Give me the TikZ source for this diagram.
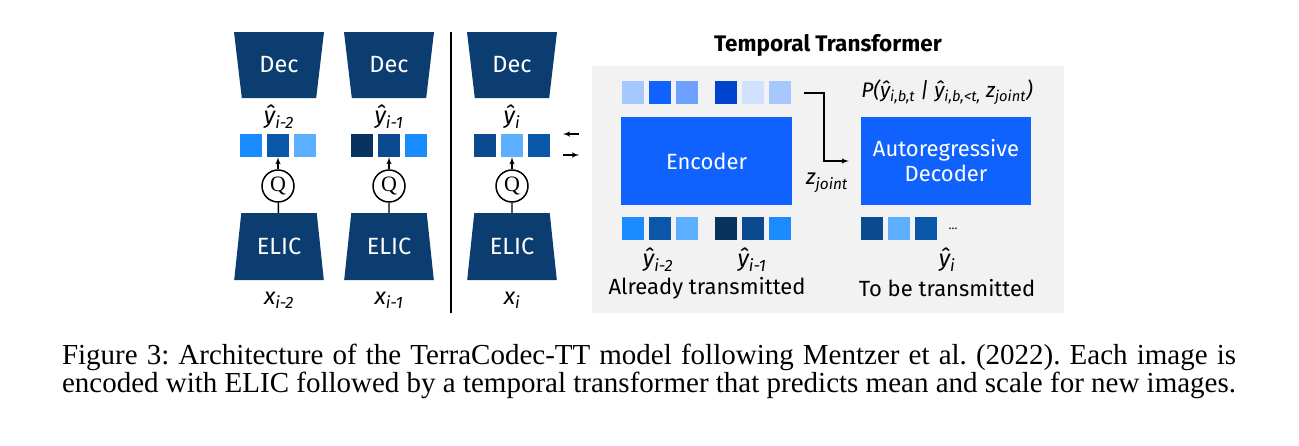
\documentclass[tikz,border=0pt]{standalone}
\usepackage{fontspec}
\setmainfont{Liberation Serif}
\setsansfont{Fira Sans}
\usepackage{xcolor}
\usetikzlibrary{shapes.geometric, arrows, positioning, calc}

\definecolor{navy}{HTML}{0B3D70}
\definecolor{ibmblue}{HTML}{0F62FE}
\definecolor{ttgray}{HTML}{F2F2F2}
\definecolor{cA}{HTML}{1A8CFF}
\definecolor{cB}{HTML}{0A56A8}
\definecolor{cC}{HTML}{5CAEFF}
\definecolor{cD}{HTML}{08335F}
\definecolor{cE}{HTML}{0B4A8E}
\definecolor{tA}{HTML}{A6C8FF}
\definecolor{tB}{HTML}{0F62FE}
\definecolor{tC}{HTML}{6EA0FF}
\definecolor{tD}{HTML}{0043CE}
\definecolor{tE}{HTML}{D0E2FF}

\begin{document}
\begin{tikzpicture}[
    x=1pt, y=-1pt,
    font=\sffamily\fontsize{22}{26}\selectfont,
    node distance=4.5pt,
    coder/.style={trapezium, trapezium stretches=true, trapezium angle=76, fill=navy, text=white, minimum width=90pt, minimum height=66pt, inner sep=0pt, font=\sffamily\fontsize{23.5}{26}\selectfont},
    dec/.style={coder, shape border rotate=180},
    sq/.style={rectangle, minimum width=22pt, minimum height=23pt, inner sep=0pt},
    qnode/.style={circle, draw, line width=1.5pt, minimum size=32pt, inner sep=0pt, font=\rmfamily\fontsize{22}{22}\selectfont},
    blk/.style={rectangle, fill=ibmblue, text=white, minimum width=171pt, minimum height=88pt, align=center, font=\sffamily\fontsize{22}{27}\selectfont},
    lbl/.style={inner sep=0pt},
    mlbl/.style={inner sep=0pt, font=\sffamily\itshape\fontsize{23.5}{26}\selectfont},
    line/.style={draw, line width=1.4pt, -latex'}
]
\useasboundingbox (0,0) rectangle (1299,445);

% left: per-frame ELIC codecs
\node [dec] (dec1) at (279,65) {Dec};
\node [dec] (dec2) at (389,65) {Dec};
\node [dec] (dec3) at (512,65) {Dec};

\node [mlbl] (yh1) at (279,117) {ŷ\textsubscript{i-2}};
\node [mlbl] (yh2) at (389,117) {ŷ\textsubscript{i-1}};
\node [mlbl] (yh3) at (512,117) {ŷ\textsubscript{i}};

\node [sq, fill=cB] (s12) at (278,145.5) {};
\node [sq, fill=cA, left=of s12] (s11) {};
\node [sq, fill=cC, right=of s12] (s13) {};
\node [sq, fill=cE] (s22) at (389,145.5) {};
\node [sq, fill=cD, left=of s22] (s21) {};
\node [sq, fill=cA, right=of s22] (s23) {};
\node [sq, fill=cC] (s32) at (512,145.5) {};
\node [sq, fill=cE, left=of s32] (s31) {};
\node [sq, fill=cB, right=of s32] (s33) {};

\node [qnode] (q1) at (278,186) {Q};
\node [qnode] (q2) at (389,186) {Q};
\node [qnode] (q3) at (512,186) {Q};

\node [coder, minimum height=67pt] (elic1) at (279,246.5) {ELIC};
\node [coder, minimum height=67pt] (elic2) at (389,246.5) {ELIC};
\node [coder, minimum height=67pt] (elic3) at (512,246.5) {ELIC};

\node [mlbl] (x1) at (279,300) {x\textsubscript{i-2}};
\node [mlbl] (x2) at (389,300) {x\textsubscript{i-1}};
\node [mlbl] (x3) at (512,300) {x\textsubscript{i}};

\path [line] (q1) -- (s12);
\path [line] (q2) -- (s22);
\path [line] (q3) -- (s32);
\draw [line width=1.4pt] (elic1) -- (q1);
\draw [line width=1.4pt] (elic2) -- (q2);
\draw [line width=1.4pt] (elic3) -- (q3);

\coordinate (septop) at (451,32);
\coordinate (sepbot) at (451,313);
\draw [line width=1.4pt] (septop) -- (sepbot);

\coordinate (inR) at (579,134);
\coordinate (inL) at (563,134);
\coordinate (outL) at (563,155);
\coordinate (outR) at (579,155);
\path [line] (inR) -- (inL);
\path [line] (outL) -- (outR);

% right: temporal transformer
\node [fill=ttgray, minimum width=472pt, minimum height=247pt, inner sep=0pt] (ttbox) at (828,189.5) {};
\node [lbl, font=\sffamily\bfseries\fontsize{22.5}{26}\selectfont] (title) at (828,45) {Temporal Transformer};

\node [blk] (enc) at (706.5,161) {Encoder};
\node [blk, minimum width=170pt] (ardec) at (946,161) {Autoregressive\\[-2pt]Decoder};

\node [sq, fill=tA] (t1) at (633,92.5) {};
\node [sq, fill=tB, right=of t1] (t2) {};
\node [sq, fill=tC, right=of t2] (t3) {};
\node [sq, fill=tD] (t4) at (726,92.5) {};
\node [sq, fill=tE, right=of t4] (t5) {};
\node [sq, fill=tA, right=of t5] (t6) {};

\node [sq, fill=cA] (b1) at (633,228) {};
\node [sq, fill=cB, right=of b1] (b2) {};
\node [sq, fill=cC, right=of b2] (b3) {};
\node [sq, fill=cD] (b4) at (726,228) {};
\node [sq, fill=cE, right=of b4] (b5) {};
\node [sq, fill=cA, right=of b5] (b6) {};

\node [sq, fill=cE] (r1) at (872,228) {};
\node [sq, fill=cC, right=of r1] (r2) {};
\node [sq, fill=cB, right=of r2] (r3) {};
\node [lbl, font=\sffamily\fontsize{12}{12}\selectfont] (dots) at (953,229) {\ldots};

\node [mlbl] (yb1) at (658,260) {ŷ\textsubscript{i-2}};
\node [mlbl] (yb2) at (752,260) {ŷ\textsubscript{i-1}};
\node [mlbl] (yb3) at (947,260) {ŷ\textsubscript{i}};
\node [lbl] (sent) at (707,288) {Already transmitted};
\node [lbl] (tosend) at (947,288) {To be transmitted};

\node [lbl, font=\sffamily\itshape\fontsize{21}{25}\selectfont] (prob) at (947,92) {P(ŷ\textsubscript{i,b,t} | ŷ\textsubscript{i,b,<t,} z\textsubscript{joint})};

\coordinate (zs) at (804,93);
\path [line, shorten >=12pt] (zs) -- ++(20,0) |- (ardec.west);
\node [mlbl, font=\sffamily\itshape\fontsize{22}{26}\selectfont] (zj) at (827,183) {z\textsubscript{joint}};

% caption
\node [align=justify, text width=1174pt, inner sep=0pt, font=\rmfamily\fontsize{29}{28}\selectfont\frenchspacing] (cap) at (649,371)
  {Figure 3: Architecture of the TerraCodec-TT model following Mentzer et al. (2022). Each image is\linebreak encoded with ELIC followed by a temporal transformer that predicts mean and scale for new images.};
\end{tikzpicture}
\end{document}
